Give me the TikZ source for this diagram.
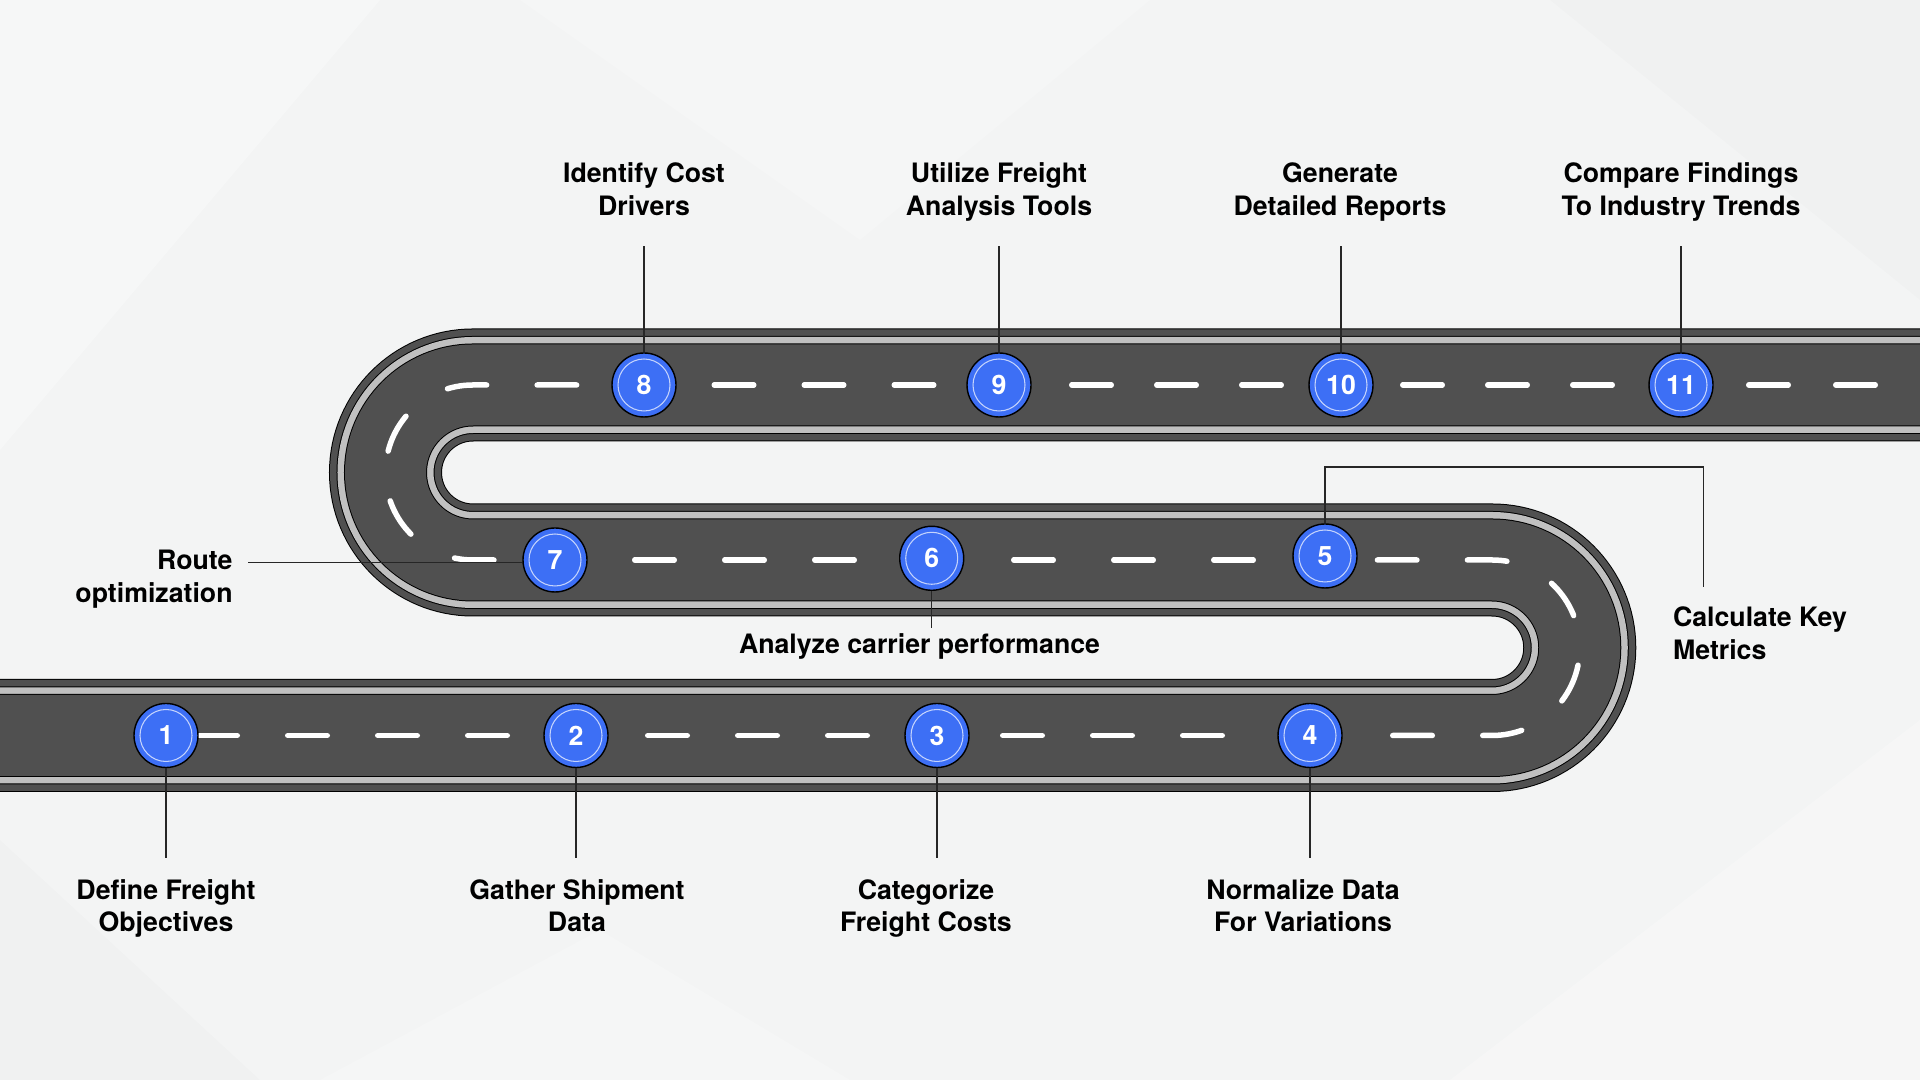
\documentclass[tikz,border=0pt]{standalone}
\usepackage{fontspec}
\setmainfont{TeX Gyre Heros}
\usepackage{tikz}
\usetikzlibrary{positioning, calc}
\definecolor{paper}{RGB}{243,244,244}
\definecolor{roaddark}{RGB}{80,80,80}
\definecolor{roadline}{RGB}{192,192,192}
\definecolor{stopblue}{RGB}{61,111,245}
\tikzset{
  stop_dot/.style={circle, draw=black, line width=0.4pt, fill=stopblue, minimum size=0.64cm, inner sep=0pt, text=white, font=\fontsize{7.6}{9}\selectfont\bfseries,
    path picture={\draw[white!70!stopblue, line width=0.3pt] (path picture bounding box.center) circle (0.26cm);}},
  step_label/.style={align=center, inner sep=0pt, font=\fontsize{7.6}{9.3}\selectfont\bfseries},
  leader_line/.style={-, black!85, line width=0.35pt},
  lane_mark/.style={white, line width=0.055cm, line cap=round, dash pattern=on 0.395cm off 0.505cm},
  facet/.style={fill=white, opacity=0.3}
}
\pgfdeclarelayer{paperlayer}
\pgfdeclarelayer{roadlayer}
\pgfsetlayers{paperlayer, roadlayer, main}

\begin{document}
\begin{tikzpicture}[node distance=1cm and 1.5cm]
  \useasboundingbox (0,0) rectangle (19.2,10.8);

  % --- Stops ---
  \node[stop_dot] (c1) at (1.66,3.445) {1};
  \node[stop_dot] (c2) at (5.76,3.445) {2};
  \node[stop_dot] (c3) at (9.37,3.445) {3};
  \node[stop_dot] (c4) at (13.10,3.445) {4};
  \node[stop_dot] (c5) at (13.25,5.24) {5};
  \node[stop_dot] (c6) at (9.317,5.217) {6};
  \node[stop_dot] (c7) at (5.55,5.20) {7};
  \node[stop_dot] (c8) at (6.44,6.95) {8};
  \node[stop_dot] (c9) at (9.99,6.95) {9};
  \node[stop_dot] (c10) at (13.41,6.95) {10};
  \node[stop_dot] (c11) at (16.81,6.95) {11};

  % --- Labels ---
  \node[step_label, anchor=north] (l8) at (6.44,9.18) {Identify Cost\\Drivers};
  \node[step_label, anchor=north] (l9) at (9.99,9.18) {Utilize Freight\\Analysis Tools};
  \node[step_label, anchor=north] (l10) at (13.40,9.18) {Generate\\Detailed Reports};
  \node[step_label, anchor=north] (l11) at (16.81,9.18) {Compare Findings\\To Industry Trends};
  \node[step_label, anchor=north] (l1) at (1.66,2.015) {Define Freight\\Objectives};
  \node[step_label, anchor=north] (l2) at (5.77,2.015) {Gather Shipment\\Data};
  \node[step_label, anchor=north] (l3) at (9.26,2.015) {Categorize\\Freight Costs};
  \node[step_label, anchor=north] (l4) at (13.03,2.015) {Normalize Data\\For Variations};
  \node[step_label, anchor=north east, align=right] (l7) at (2.333,5.307) {Route\\optimization};
  \node[step_label, anchor=base] (l6) at (9.195,4.26) {Analyze carrier performance};
  \node[step_label, anchor=north west, align=left] (l5) at (16.723,4.74) {Calculate Key\\Metrics};

  % --- Leader ends ---
  \coordinate (t8) at (6.44,8.343);
  \coordinate (t9) at (9.99,8.343);
  \coordinate (t10) at (13.41,8.343);
  \coordinate (t11) at (16.81,8.343);
  \coordinate (b1) at (1.66,2.22);
  \coordinate (b2) at (5.76,2.22);
  \coordinate (b3) at (9.37,2.22);
  \coordinate (b4) at (13.10,2.22);
  \coordinate (r7) at (2.483,5.173);
  \coordinate (a6) at (9.317,4.517);
  \coordinate (k5) at (17.033,6.13);
  \coordinate (m5) at (17.033,4.927);

  % --- Leaders ---
  \foreach \n in {8,9,10,11}
    \draw[leader_line] (c\n) -- (t\n);
  \foreach \n in {1,2,3,4}
    \draw[leader_line] (c\n) -- (b\n);
  \draw[leader_line] (r7) -- (r7 -| c7.west);
  \draw[leader_line] (c6) -- (a6);
  \draw[leader_line] (c5) |- (k5) -- (m5);

  % --- Background ---
  \begin{pgfonlayer}{paperlayer}
    \fill[paper] (0,0) rectangle (19.2,10.8);
    \fill[facet] (0,10.8) -- (3.8,10.8) -- (0,6.3) -- cycle;
    \fill[facet, opacity=0.2] (5.2,10.8) -- (11.5,10.8) -- (8.6,8.4) -- cycle;
    \fill[facet, opacity=0.25] (14.5,0) -- (19.2,0) -- (19.2,3.6) -- cycle;
    \fill[facet, opacity=0.2] (3.2,0) -- (8.5,0) -- (6.0,1.5) -- cycle;
    \fill[black, opacity=0.01] (15.5,10.8) -- (19.2,10.8) -- (19.2,7.8) -- cycle;
    \fill[black, opacity=0.01] (0,0) -- (2.6,0) -- (0,2.4) -- cycle;
  \end{pgfonlayer}

  % --- Road ---
  \begin{pgfonlayer}{roadlayer}
    \foreach \lw/\col in {1.13/black, 1.11/roaddark, 0.98/black, 0.96/roadline, 0.83/black, 0.81/roaddark}
      \draw[line width=\lw cm, \col] (-0.3,3.445) -- (14.92,3.445)
        arc[start angle=-90, end angle=90, radius=0.8775] -- (4.73,5.20)
        arc[start angle=270, end angle=90, radius=0.875] -- (19.5,6.95);

    % lane markings, one run between each pair of stops
    \draw[lane_mark, dash phase=0.5825cm] (c1.center) -- (c2.center);
    \draw[lane_mark, dash phase=0.1825cm] (c2.center) -- (c3.center);
    \draw[lane_mark, dash phase=0.2425cm] (c3.center) -- ($(c4.center)+(-0.40,0)$);
    \draw[lane_mark, dash phase=0.4025cm] ($(c4.center)+(0.33,0)$) -- (14.92,3.445)
      arc[start angle=-90, end angle=90, radius=0.8775] -- (c5 |- c7);
    \draw[lane_mark, dash pattern=on 0.395cm off 0.605cm, dash phase=0.2825cm] (c5 |- c7) -- (c6 |- c7);
    \draw[lane_mark, dash phase=0.1255cm] (c6 |- c7) -- (c7.center);
    \draw[lane_mark, dash phase=0.2895cm] (c7.center) -- (4.73,5.20)
      arc[start angle=270, end angle=90, radius=0.875] -- (c8.center);
    \draw[lane_mark, dash phase=0.1975cm] (c8.center) -- (c9.center);
    \draw[lane_mark, dash pattern=on 0.395cm off 0.455cm, dash phase=0.1225cm] (c9.center) -- (c10.center);
    \draw[lane_mark, dash pattern=on 0.395cm off 0.455cm, dash phase=0.2325cm] (c10.center) -- (c11.center);
    \draw[lane_mark, dash pattern=on 0.395cm off 0.475cm, dash phase=0.1925cm] (c11.center) -- (19.5,6.95);
  \end{pgfonlayer}
\end{tikzpicture}
\end{document}
